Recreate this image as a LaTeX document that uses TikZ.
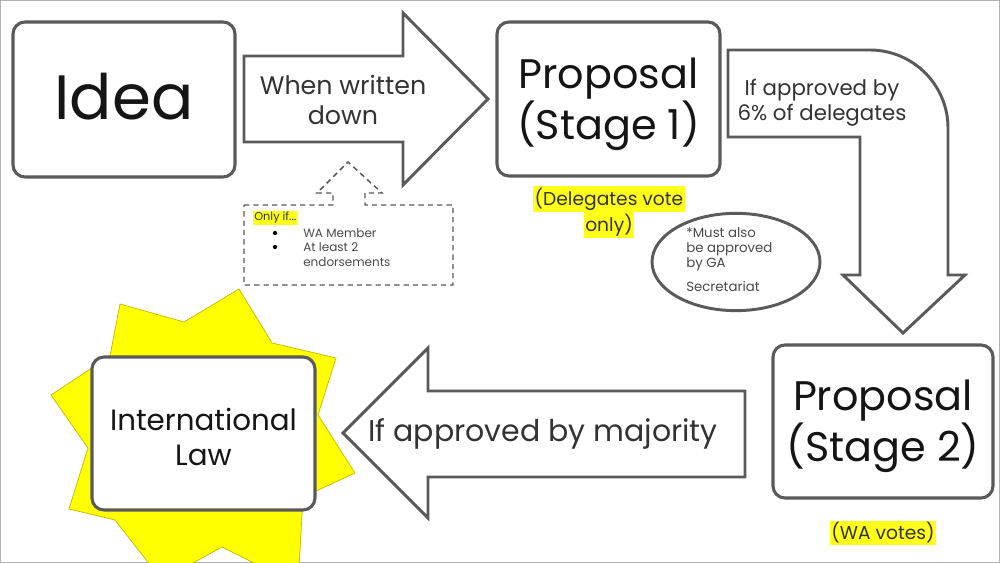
\documentclass[tikz,border=0pt]{standalone}
\usepackage{fontspec}
\setmainfont{Poppins}
\usetikzlibrary{shapes.geometric}
\definecolor{edge}{HTML}{5A5A5A}
\definecolor{hl}{HTML}{FFFF1A}
\definecolor{staryellow}{HTML}{FFFF00}
\definecolor{starline}{HTML}{C8C000}
\definecolor{ink}{HTML}{151515}
\definecolor{softink}{HTML}{333333}
\definecolor{greyink}{HTML}{4A4A4A}
\begin{document}
\begin{tikzpicture}[x=0.75pt,y=-0.75pt,
  box/.style={draw=edge, line width=2.3pt, rounded corners=9pt, fill=white, inner sep=0pt},
  boxtext/.style={text=ink, align=center, inner sep=0pt},
  blockarrow/.style={draw=edge, line width=2.2pt, fill=white, line join=miter},
  arrowtext/.style={text=softink, align=center, inner sep=0pt},
  hilite/.style={fill=hl, text=softink, inner sep=1.2pt},
  calltext/.style={text=greyink, inner sep=0pt, anchor=west, font=\fontsize{9}{11}\selectfont},
  dashline/.style={draw=edge, line width=1.1pt, dash pattern=on 4pt off 3pt}
]
\useasboundingbox (0,0) rectangle (1000,563);
\fill[white] (0,0) rectangle (1000,563);
\draw[black!30, line width=0.8pt] (0.5,0.5) rectangle (999.5,562.5);

% star behind International Law
\begin{scope}
\clip (0,0) rectangle (1000,563);
\filldraw[fill=staryellow, draw=starline, line width=0.6pt]
  (120,304) -- (184,322) -- (239,289) -- (272,343) -- (336,358) -- (318,415)
  -- (355,473) -- (303,497) -- (298,585) -- (222,547) -- (162,580) -- (115,520)
  -- (69,509) -- (88,448) -- (51,395) -- (110,356) -- cycle;
\end{scope}

% boxes
\node[box, minimum width=166.5pt, minimum height=116.25pt] (idea) at (124,99.5) {};
\node[boxtext, font=\fontsize{47}{56}\selectfont] (ideat) at (124,97) {Idea};
\node[box, minimum width=167.25pt, minimum height=115.5pt] (prop1) at (608.5,99) {};
\node[boxtext, font=\fontsize{31}{36}\selectfont] (prop1t) at (608.5,104) {Proposal\\(Stage 1)};
\node[box, minimum width=165pt, minimum height=114.75pt] (prop2) at (883,421.5) {};
\node[boxtext, font=\fontsize{31}{38}\selectfont] (prop2t) at (883,426) {Proposal\\(Stage 2)};
\node[box, minimum width=167.25pt, minimum height=114.75pt] (law) at (203.5,433.5) {};
\node[boxtext, font=\fontsize{22}{26}\selectfont] (lawt) at (203.5,437) {International\\Law};

% arrow 1: Idea -> Proposal 1
\draw[blockarrow] (244,56) -- (403,56) -- (403,13) -- (488,99) -- (403,185) -- (403,142) -- (244,142) -- cycle;
\node[arrowtext, font=\fontsize{19}{22.5}\selectfont] (a1) at (343,100) {When written\\down};

% bent arrow: Proposal 1 -> Proposal 2
\draw[blockarrow] (728,50) -- (870,50) .. controls (913,50) and (948,85) .. (948,128)
  -- (948,275) -- (965,275) -- (903,333) -- (843,275) -- (860,275) -- (860,137) -- (728,137) -- cycle;
\node[arrowtext, font=\fontsize{16}{19}\selectfont] (a2) at (822,103) {If approved by\\6\% of delegates};

% arrow 3: Proposal 2 -> International Law
\draw[blockarrow] (745,391) -- (428,391) -- (428,348) -- (343,433) -- (428,518) -- (428,477) -- (745,477) -- cycle;
\node[arrowtext, font=\fontsize{22.5}{27}\selectfont] (a3) at (543,434) {If approved by majority};

% highlighted notes
\node[hilite, font=\fontsize{14}{16}\selectfont] (del1) at (609,199) {(Delegates vote};
\node[hilite, font=\fontsize{14}{16}\selectfont, anchor=north] (del2) at (del1.south) {only)};
\node[hilite, font=\fontsize{14}{16}\selectfont] (wa) at (883,533) {(WA votes)};

% ellipse note
\node[ellipse, draw=edge, line width=2.2pt, minimum width=126pt, minimum height=73pt, inner sep=0pt] (sec) at (736,262) {};
\node[text=greyink, align=left, inner sep=0pt, font=\fontsize{10}{11.5}\selectfont, anchor=north west] (sectext) at (686,227) {*Must also\\be approved\\by GA\\[6pt]Secretariat};

% dashed callout with upward arrow
\draw[dashline] (244,205) -- (333,205) -- (333,193) -- (317,193) -- (348,162) -- (382,193)
  -- (365,193) -- (365,205) -- (453,205) -- (453,285) -- (244,285) -- cycle;
\node[hilite, font=\fontsize{8.5}{10}\selectfont, anchor=west, inner sep=0.8pt] (only) at (253,218) {Only if...};
\fill[black] (275,233) circle[radius=1.6pt];
\fill[black] (275,247) circle[radius=1.6pt];
\node[calltext] (c1) at (303,233) {WA Member};
\node[calltext] (c2) at (303,247) {At least 2};
\node[calltext] (c3) at (303,262) {endorsements};
\end{tikzpicture}
\end{document}
